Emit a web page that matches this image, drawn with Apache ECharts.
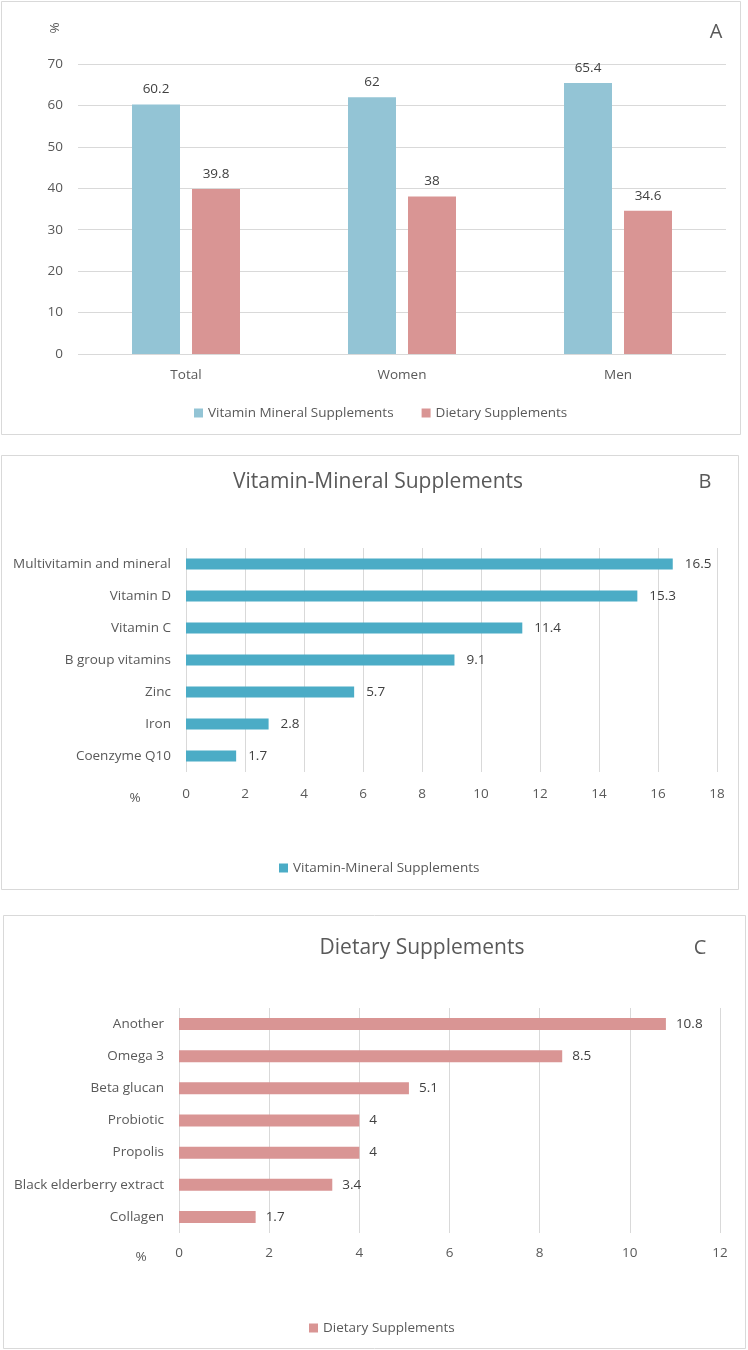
<!DOCTYPE html>
<html>
<head>
<meta charset="utf-8">
<script src="https://cdn.jsdelivr.net/npm/echarts@6/dist/echarts.min.js"></script>
<style>
  html, body { margin: 0; padding: 0; background: #fff; }
  #chart { width: 748px; height: 1350px; }
</style>
</head>
<body>
<div id="chart"></div>
<script>
// panel A
const groups = ['Total', 'Women', 'Men']
const vitaminMineralShare = [60.2, 62, 65.4]
const dietaryShare = [39.8, 38, 34.6]

// panel B
const vmCategories = ['Multivitamin and mineral', 'Vitamin D', 'Vitamin C', 'B group vitamins', 'Zinc', 'Iron', 'Coenzyme Q10']
const vmValues = [16.5, 15.3, 11.4, 9.1, 5.7, 2.8, 1.7]

// panel C
const dsCategories = ['Another', 'Omega 3', 'Beta glucan', 'Probiotic', 'Propolis', 'Black elderberry extract', 'Collagen']
const dsValues = [10.8, 8.5, 5.1, 4, 4, 3.4, 1.7]

const font = '"Open Sans", sans-serif'
const textColor = '#595959'
const gridColor = '#d9d9d9'
const lightBlue = '#93c4d5'
const teal = '#4bacc6'
const rose = '#d99594'

const labelStyle = { fontFamily: font, fontSize: 13.5, color: textColor }
const splitLine = { show: true, lineStyle: { color: gridColor, width: 1 } }

function panelText(text, x, y, size, rotation) {
  return {
    type: 'text',
    x: x,
    y: y,
    rotation: rotation || 0,
    style: {
      text: text,
      fill: textColor,
      font: size + 'px ' + font,
      textAlign: 'center',
      textVerticalAlign: 'middle',
      align: 'center',
      verticalAlign: 'middle'
    }
  }
}

function border(x, y, w, h) {
  return {
    type: 'rect',
    shape: { x: x + 0.5, y: y + 0.5, width: w, height: h },
    style: { fill: 'none', stroke: gridColor, lineWidth: 1 },
    z: -1
  }
}

const option = {
  animation: false,
  backgroundColor: '#fff',
  textStyle: { fontFamily: font },
  graphic: [
    border(1, 1, 739, 433),
    border(1, 455, 737, 434),
    border(3, 915, 742, 433),
    panelText('%', 55, 28, 13.5, Math.PI / 2),
    panelText('A', 716, 32, 20),
    panelText('Vitamin-Mineral Supplements', 378, 482, 21),
    panelText('B', 705, 482, 20),
    panelText('%', 135, 798, 13.5),
    panelText('Dietary Supplements', 422, 948, 21),
    panelText('C', 700, 948, 20),
    panelText('%', 141, 1257, 13.5)
  ],
  legend: [
    {
      data: ['Vitamin Mineral Supplements', 'Dietary Supplements'],
      left: 189,
      top: 401,
      itemWidth: 9,
      itemHeight: 9,
      itemGap: 28,
      icon: 'rect',
      textStyle: labelStyle
    },
    {
      data: ['Vitamin-Mineral Supplements'],
      left: 274,
      top: 856,
      itemWidth: 9,
      itemHeight: 9,
      icon: 'rect',
      textStyle: labelStyle
    },
    {
      data: ['Dietary Supplements'],
      left: 304,
      top: 1316,
      itemWidth: 9,
      itemHeight: 9,
      icon: 'rect',
      textStyle: labelStyle
    }
  ],
  grid: [
    { left: 78, top: 64, width: 648, height: 290 },
    { left: 186, top: 548, width: 531, height: 224 },
    { left: 179, top: 1008, width: 541, height: 225 }
  ],
  xAxis: [
    {
      gridIndex: 0,
      type: 'category',
      data: groups,
      axisLine: { show: false },
      axisTick: { show: false },
      axisLabel: Object.assign({ margin: 14 }, labelStyle)
    },
    {
      gridIndex: 1,
      type: 'value',
      min: 0,
      max: 18,
      interval: 2,
      axisLine: { show: false },
      axisTick: { show: false },
      axisLabel: Object.assign({ margin: 15 }, labelStyle),
      splitLine: splitLine
    },
    {
      gridIndex: 2,
      type: 'value',
      min: 0,
      max: 12,
      interval: 2,
      axisLine: { show: false },
      axisTick: { show: false },
      axisLabel: Object.assign({ margin: 13 }, labelStyle),
      splitLine: splitLine
    }
  ],
  yAxis: [
    {
      gridIndex: 0,
      type: 'value',
      min: 0,
      max: 70,
      interval: 10,
      axisLine: { show: false },
      axisTick: { show: false },
      axisLabel: Object.assign({ margin: 15 }, labelStyle),
      splitLine: splitLine
    },
    {
      gridIndex: 1,
      type: 'category',
      inverse: true,
      data: vmCategories,
      axisLine: { show: false },
      axisTick: { show: false },
      axisLabel: Object.assign({ margin: 15 }, labelStyle)
    },
    {
      gridIndex: 2,
      type: 'category',
      inverse: true,
      data: dsCategories,
      axisLine: { show: false },
      axisTick: { show: false },
      axisLabel: Object.assign({ margin: 15 }, labelStyle)
    }
  ],
  series: [
    {
      name: 'Vitamin Mineral Supplements',
      type: 'bar',
      xAxisIndex: 0,
      yAxisIndex: 0,
      data: vitaminMineralShare,
      barWidth: 48,
      barGap: '25%',
      itemStyle: { color: lightBlue },
      label: Object.assign({ show: true, position: 'top', distance: 8 }, labelStyle, { color: '#404040' })
    },
    {
      name: 'Dietary Supplements',
      type: 'bar',
      xAxisIndex: 0,
      yAxisIndex: 0,
      data: dietaryShare,
      barWidth: 48,
      barGap: '25%',
      itemStyle: { color: rose },
      label: Object.assign({ show: true, position: 'top', distance: 8 }, labelStyle, { color: '#404040' })
    },
    {
      name: 'Vitamin-Mineral Supplements',
      type: 'bar',
      xAxisIndex: 1,
      yAxisIndex: 1,
      data: vmValues,
      barWidth: 11,
      itemStyle: { color: teal },
      label: Object.assign({ show: true, position: 'right', distance: 12 }, labelStyle, { color: '#404040' })
    },
    {
      name: 'Dietary Supplements',
      type: 'bar',
      xAxisIndex: 2,
      yAxisIndex: 2,
      data: dsValues,
      barWidth: 12,
      itemStyle: { color: rose },
      label: Object.assign({ show: true, position: 'right', distance: 10 }, labelStyle, { color: '#404040' })
    }
  ]
}

const myChart = echarts.init(document.getElementById('chart'))
myChart.setOption(option)
</script>
</body>
</html>
